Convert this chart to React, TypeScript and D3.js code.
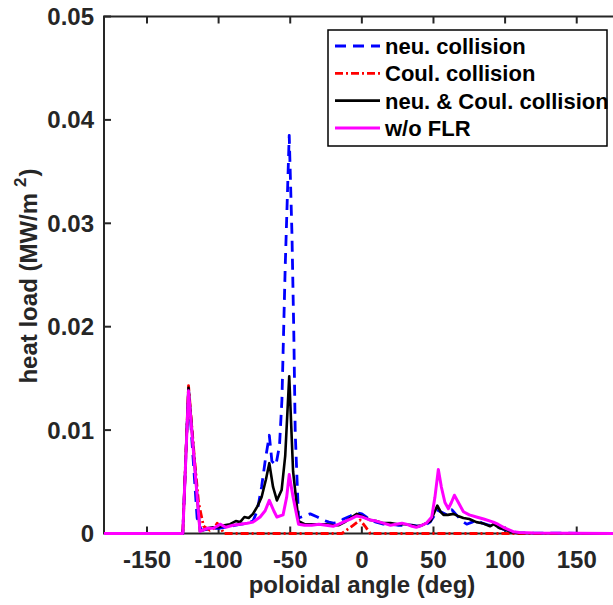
import * as d3 from 'd3'
import { useEffect, useRef } from 'react'

// [poloidal angle (deg), heat load (MW/m^2)]
const neuCollision: [number, number][] = [
  [-180, 0], [-125, 0], [-121, 0.0139], [-115, 0.0015], [-112, 0.0003], [-108, 0.0004],
  [-104, 0.0005], [-100, 0.0005], [-96, 0.0006], [-92, 0.0007], [-88, 0.0008], [-84, 0.0009],
  [-80, 0.001], [-76, 0.0012], [-73, 0.0022], [-70, 0.0045], [-67.4, 0.0071], [-64.6, 0.0095],
  [-62.8, 0.007], [-60, 0.0066], [-57.5, 0.0085], [-55.8, 0.0129], [-53.5, 0.0258],
  [-50.7, 0.0385], [-48.8, 0.029], [-47.5, 0.0194], [-46.5, 0.0097], [-44.2, 0.0015],
  [-40, 0.0017], [-36, 0.0019], [-31, 0.0016], [-27, 0.0013], [-23, 0.0011], [-19.8, 0.001],
  [-16, 0.0011], [-12.8, 0.0014], [-8, 0.0017], [-3.5, 0.002], [0, 0.0019], [3, 0.0016],
  [5.8, 0.0013], [10, 0.0011], [15, 0.0009], [20, 0.0009], [25, 0.0008], [30, 0.0008],
  [35, 0.0008], [40, 0.0007], [44, 0.0008], [47.6, 0.0011], [50, 0.0016], [52.3, 0.0023],
  [55, 0.0021], [59.3, 0.0018], [62.8, 0.0023], [66, 0.0018], [70, 0.0012], [73.2, 0.0009],
  [77, 0.0011], [80, 0.0013], [84, 0.001], [89, 0.0008], [94, 0.0007], [99, 0.0004],
  [104, 0.0002], [110, 0.00005], [180, 0],
]

const coulCollision: [number, number][] = [
  [-180, 0], [-125, 0], [-121, 0.0143], [-117, 0.0075], [-114, 0.003], [-110.5, 0.0007],
  [-106, 0.0003], [-103, 0.0005], [-101, 0.001], [-98.5, 0.0006], [-96.5, 0], [-14, 0],
  [-7, 0.0007], [-1.2, 0.0013], [2.3, 0.0007], [5.8, 0], [180, 0],
]

const neuCoulCollision: [number, number][] = [
  [-180, 0], [-125, 0], [-121, 0.0141], [-113, 0.0002], [-108, 0.0005], [-104, 0.0006],
  [-100, 0.0006], [-96, 0.0008], [-92, 0.0009], [-88, 0.0012], [-85, 0.0011], [-82, 0.0016],
  [-79, 0.0015], [-76, 0.0019], [-73, 0.0026], [-70, 0.0035], [-67, 0.0052], [-64.6, 0.0068],
  [-62, 0.0045], [-59.3, 0.0032], [-56, 0.0042], [-53.5, 0.0075], [-50.7, 0.0152],
  [-48, 0.006], [-44.2, 0.0012], [-40, 0.0009], [-35, 0.0009], [-30, 0.0009], [-25, 0.0009],
  [-20, 0.0008], [-16, 0.0008], [-12, 0.0011], [-8, 0.0015], [-3.5, 0.0019], [0, 0.0017],
  [5.8, 0.0013], [10, 0.0012], [15, 0.001], [20, 0.001], [25, 0.0009], [30, 0.0009],
  [35, 0.0008], [38, 0.0007], [42, 0.0008], [45, 0.001], [48, 0.0012], [50.5, 0.002],
  [52.7, 0.0027], [55, 0.0021], [57, 0.0018], [60, 0.0018], [63.9, 0.0019], [67, 0.0017],
  [70.9, 0.0015], [75, 0.0014], [80, 0.0011], [84, 0.001], [89.5, 0.0007], [92, 0.0009],
  [96.4, 0.0005], [100, 0.0004], [103.4, 0.0002], [108, 0.00005], [180, 0],
]

const withoutFlr: [number, number][] = [
  [-180, 0], [-125, 0], [-121, 0.0138], [-113, 0.0002], [-108, 0.0005], [-104, 0.0005],
  [-101, 0.0007], [-99, 0.0009], [-95, 0.0006], [-90, 0.0008], [-85, 0.0009], [-80, 0.001],
  [-76, 0.0011], [-71, 0.0016], [-67.5, 0.0022], [-64.6, 0.0032], [-61.5, 0.0022],
  [-59.3, 0.0016], [-55, 0.0018], [-52.5, 0.0035], [-50.7, 0.0057], [-48, 0.0035],
  [-44.2, 0.0009], [-40, 0.0008], [-35, 0.0008], [-30, 0.0009], [-25, 0.0008], [-20, 0.0007],
  [-16, 0.0009], [-13, 0.0011], [-8, 0.0014], [-3.5, 0.0017], [0, 0.0016], [5.8, 0.0013],
  [10, 0.0012], [15, 0.001], [20, 0.0008], [24, 0.0009], [28, 0.001], [31, 0.0009],
  [35, 0.0007], [38, 0.0006], [42, 0.0008], [45, 0.001], [48.8, 0.0016], [51, 0.0035],
  [53.4, 0.0062], [55.5, 0.0045], [58, 0.003], [60.4, 0.0024], [62.5, 0.003], [64.6, 0.0037],
  [67, 0.0031], [70.9, 0.0021], [75, 0.0018], [80, 0.0016], [85, 0.0014], [91.8, 0.0011],
  [95, 0.0009], [98.8, 0.0006], [102, 0.0004], [105.7, 0.00017], [110, 0.0001],
  [120, 0.00005], [180, 0],
]

const xTicks = [-150, -100, -50, 0, 50, 100, 150]
const yTicks = [0, 0.01, 0.02, 0.03, 0.04, 0.05]

const series = [
  { name: 'neu. collision', data: neuCollision, color: '#0000ff', width: 2.8, dash: '11,7' },
  { name: 'Coul. collision', data: coulCollision, color: '#ff0000', width: 2.8, dash: '8,3,2,3' },
  { name: 'neu. & Coul. collision', data: neuCoulCollision, color: '#000000', width: 2.6, dash: null },
  { name: 'w/o FLR', data: withoutFlr, color: '#ff00ff', width: 3, dash: null },
]

const W = 613
const H = 605
const left = 104
const right = 619.7
const top = 16.5
const bottom = 533.5
const font = '"Liberation Sans", Arial, Helvetica, sans-serif'
const axisColor = '#262626'

export default function App() {
  const svgRef = useRef<SVGSVGElement>(null)

  useEffect(() => {
    if (!svgRef.current) return
    const svg = d3.select(svgRef.current)
    svg.selectAll('*').remove()

    const x = d3.scaleLinear().domain([-180, 180]).range([left, right])
    const y = d3.scaleLinear().domain([0, 0.05]).range([bottom, top])

    svg.append('rect').attr('width', W).attr('height', H).attr('fill', '#fff')

    svg.append('defs').append('clipPath').attr('id', 'plot-clip')
      .append('rect')
      .attr('x', left).attr('y', top - 2)
      .attr('width', right - left).attr('height', bottom - top + 4)

    // ticks (inward) on bottom/top and left
    const tickLen = 7
    const ax = svg.append('g').attr('stroke', axisColor).attr('stroke-width', 2)
    xTicks.forEach(t => {
      ax.append('line').attr('x1', x(t)).attr('x2', x(t)).attr('y1', bottom).attr('y2', bottom - tickLen)
      ax.append('line').attr('x1', x(t)).attr('x2', x(t)).attr('y1', top).attr('y2', top + tickLen)
    })
    yTicks.forEach(t => {
      ax.append('line').attr('x1', left).attr('x2', left + tickLen).attr('y1', y(t)).attr('y2', y(t))
    })

    // curves
    const line = d3.line<[number, number]>()
      .x(d => x(d[0]))
      .y(d => y(d[1]))
    const curves = svg.append('g').attr('clip-path', 'url(#plot-clip)')
    series.forEach(s => {
      curves.append('path')
        .datum(s.data)
        .attr('d', line)
        .attr('fill', 'none')
        .attr('stroke', s.color)
        .attr('stroke-width', s.width)
        .attr('stroke-linejoin', 'round')
        .attr('stroke-dasharray', s.dash)
    })

    // frame
    ax.append('path')
      .attr('d', `M${right},${top}H${left}V${bottom}H${right}`)
      .attr('fill', 'none')

    // tick labels
    const labels = svg.append('g')
      .attr('font-family', font)
      .attr('font-weight', 'bold')
      .attr('font-size', 24)
      .attr('fill', axisColor)
    xTicks.forEach(t => {
      labels.append('text').attr('x', x(t)).attr('y', 568)
        .attr('text-anchor', 'middle').text(String(t))
    })
    yTicks.forEach(t => {
      labels.append('text').attr('x', 94).attr('y', y(t) + 8.5)
        .attr('text-anchor', 'end').text(t === 0 ? '0' : String(t))
    })

    // axis titles
    svg.append('text')
      .attr('x', 362).attr('y', 593)
      .attr('text-anchor', 'middle')
      .attr('font-family', font).attr('font-weight', 'bold').attr('font-size', 24)
      .attr('fill', axisColor)
      .text('poloidal angle (deg)')

    const yl = svg.append('text')
      .attr('transform', 'translate(37,276) rotate(-90)')
      .attr('text-anchor', 'middle')
      .attr('font-family', font).attr('font-weight', 'bold').attr('font-size', 24)
      .attr('fill', axisColor)
    yl.append('tspan').text('heat load (MW/m')
    yl.append('tspan').attr('dy', -11).attr('dx', 6).attr('font-size', 17).text('2')
    yl.append('tspan').attr('dy', 11).attr('dx', 1).text(')')

    // legend
    const lg = svg.append('g')
    lg.append('rect')
      .attr('x', 328).attr('y', 30).attr('width', 279).attr('height', 116)
      .attr('fill', '#fff').attr('stroke', '#000').attr('stroke-width', 1.5)
    series.forEach((s, i) => {
      const yy = 46 + i * 27.3
      lg.append('line')
        .attr('x1', 335).attr('x2', 380).attr('y1', yy).attr('y2', yy)
        .attr('stroke', s.color).attr('stroke-width', s.width)
        .attr('stroke-dasharray', s.dash)
      lg.append('text')
        .attr('x', 385).attr('y', yy + 8)
        .attr('font-family', font).attr('font-weight', 'bold').attr('font-size', 22)
        .attr('fill', '#000')
        .text(s.name)
    })
  }, [])

  return (
    <svg
      ref={svgRef}
      width={W}
      height={H}
      style={{ position: 'absolute', left: 0, top: 0, display: 'block' }}
    />
  )
}
